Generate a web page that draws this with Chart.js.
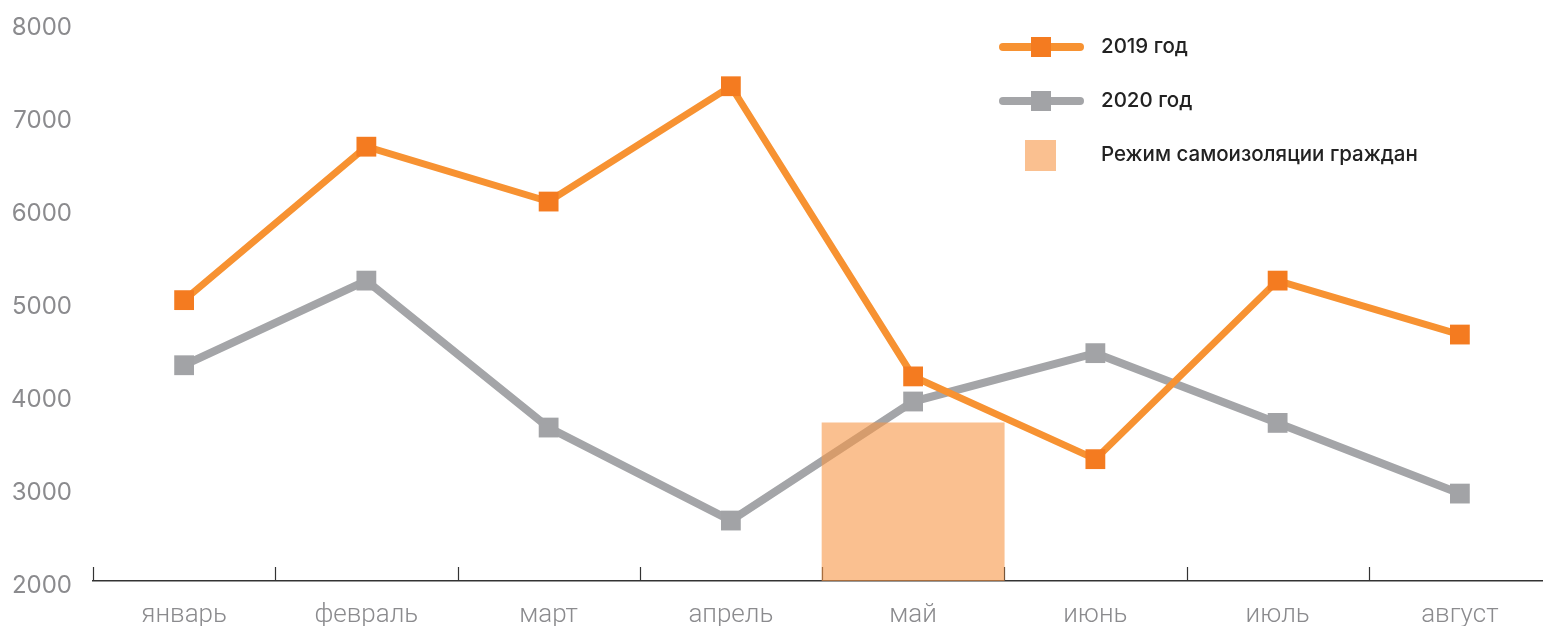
<!DOCTYPE html>
<html>
<head>
<meta charset="utf-8">
<script src="https://cdn.jsdelivr.net/npm/chart.js@4/dist/chart.umd.min.js"></script>
<style>
  html, body { margin: 0; padding: 0; background: #fff; overflow: hidden; }
  canvas { display: block; }
</style>
</head>
<body>
<canvas id="chart" width="1551" height="626"></canvas>
<script>
const months = ['январь', 'февраль', 'март', 'апрель', 'май', 'июнь', 'июль', 'август'];
const values2019 = [5020, 6670, 6080, 7320, 4200, 3310, 5230, 4650];
const values2020 = [4320, 5230, 3650, 2650, 3930, 4450, 3700, 2940];
const isolation = [null, null, null, null, 3700, null, null, null];
const yTicks = [2000, 3000, 4000, 5000, 6000, 7000, 8000];

const orangeLine = 'rgb(247,146,50)';
const orangeMark = 'rgb(244,123,32)';
const greyLine = 'rgb(164,165,168)';
const greyMark = 'rgb(162,163,166)';
const peach = 'rgba(247,150,70,0.6)';

// short upward ticks on category boundaries
const boundaryTicks = {
  id: 'boundaryTicks',
  beforeDatasetsDraw(chart) {
    const x = chart.scales.x;
    const ctx = chart.ctx;
    const step = x.width / months.length;
    const bottom = chart.chartArea.bottom;
    ctx.save();
    ctx.strokeStyle = '#333';
    ctx.lineWidth = 1.2;
    for (let i = 0; i < months.length; i++) {
      const px = Math.round(x.getPixelForValue(i) - step / 2) + 0.5;
      ctx.beginPath();
      ctx.moveTo(px, bottom);
      ctx.lineTo(px, bottom - 14);
      ctx.stroke();
    }
    ctx.restore();
  }
};

// legend in the top right corner
const cornerLegend = {
  id: 'cornerLegend',
  afterDraw(chart) {
    const ctx = chart.ctx;
    const ds = chart.data.datasets;
    ctx.save();
    ctx.font = '500 20.5px Inter, "Noto Sans", sans-serif';
    ctx.textBaseline = 'middle';
    ds.forEach((d, i) => {
      const y = 47 + i * 54;
      if (d.type === 'line') {
        ctx.strokeStyle = d.borderColor;
        ctx.lineWidth = 8;
        ctx.lineCap = 'round';
        ctx.beginPath();
        ctx.moveTo(1003, y);
        ctx.lineTo(1080, y);
        ctx.stroke();
        ctx.fillStyle = d.pointBackgroundColor;
        ctx.fillRect(1031, y - 10, 20, 20);
      } else {
        ctx.fillStyle = d.backgroundColor;
        ctx.fillRect(1025, y - 15, 31, 31);
      }
      ctx.fillStyle = '#222';
      ctx.fillText(d.label, 1101, y);
    });
    ctx.restore();
  }
};

new Chart(document.getElementById('chart'), {
  data: {
    labels: months,
    datasets: [
      {
        type: 'line',
        label: '2019 год',
        data: values2019,
        borderColor: orangeLine,
        borderWidth: 7,
        pointStyle: 'rect',
        pointRadius: 14,
        pointBorderWidth: 0,
        pointBackgroundColor: orangeMark,
        tension: 0,
        order: 0
      },
      {
        type: 'line',
        label: '2020 год',
        data: values2020,
        borderColor: greyLine,
        borderWidth: 8,
        pointStyle: 'rect',
        pointRadius: 14,
        pointBorderWidth: 0,
        pointBackgroundColor: greyMark,
        tension: 0,
        order: 2
      },
      {
        type: 'bar',
        label: 'Режим самоизоляции граждан',
        data: isolation,
        backgroundColor: peach,
        barPercentage: 1,
        categoryPercentage: 1,
        order: 1
      }
    ]
  },
  options: {
    responsive: false,
    animation: false,
    layout: { autoPadding: false, padding: { top: 23, left: 0, right: 0, bottom: 0 } },
    plugins: { legend: { display: false }, tooltip: { enabled: false } },
    scales: {
      x: {
        offset: true,
        grid: { display: false, drawTicks: false },
        border: { display: true, color: '#333', width: 1.5 },
        ticks: {
          color: '#8b8b8e',
          padding: 19,
          font: { family: 'Roboto', size: 26, weight: 300 }
        },
        afterFit: s => {
          s.height = 45;
          s.paddingLeft = 0;
          s.paddingRight = 0;
        }
      },
      y: {
        min: 2000,
        max: 8000,
        afterBuildTicks: s => { s.ticks = yTicks.map(v => ({ value: v })); },
        grid: { display: false, drawTicks: false },
        border: { display: false },
        ticks: {
          color: '#8b8b8e',
          padding: 21,
          labelOffset: 5,
          callback: v => String(v),
          font: { family: 'Inter', size: 24, weight: 400 }
        },
        afterFit: s => {
          s.width = 93;
          s.paddingTop = 0;
          s.paddingBottom = 0;
        }
      }
    }
  },
  plugins: [boundaryTicks, cornerLegend]
});
</script>
</body>
</html>
